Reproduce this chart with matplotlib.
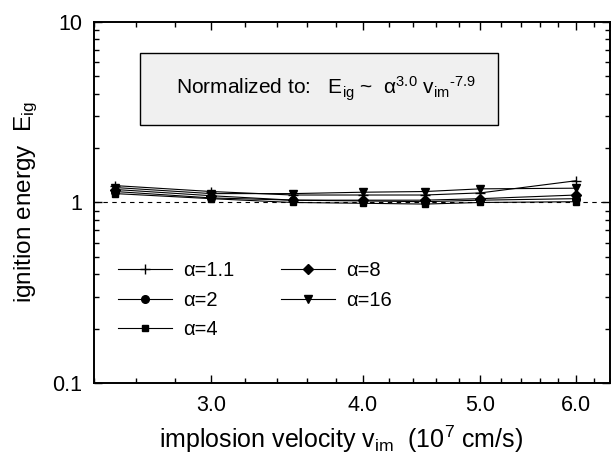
import numpy as np
import matplotlib
matplotlib.use("Agg")
import matplotlib.pyplot as plt
from matplotlib.ticker import FixedLocator, NullFormatter, FixedFormatter
from matplotlib.patches import Rectangle

plt.rcParams['font.family'] = ['Liberation Sans', 'DejaVu Sans']
plt.rcParams['mathtext.fontset'] = 'custom'
plt.rcParams['mathtext.rm'] = 'Liberation Sans'
plt.rcParams['mathtext.it'] = 'Liberation Sans:italic'

## data
v_im = [2.5, 3.0, 3.5, 4.0, 4.5, 5.0, 6.0]
e_a11 = [1.24, 1.15, 1.10, 1.10, 1.10, 1.13, 1.32]
e_a2 = [1.15, 1.06, 1.03, 1.02, 1.01, 1.03, 1.05]
e_a4 = [1.12, 1.05, 1.00, 0.99, 0.98, 1.00, 1.01]
e_a8 = [1.18, 1.09, 1.03, 1.03, 1.03, 1.05, 1.10]
e_a16 = [1.21, 1.12, 1.12, 1.14, 1.15, 1.19, 1.20]

series = [
    (e_a11, '+', "α=1.1", 6.5),
    (e_a2, 'o', "α=2", 5.5),
    (e_a4, 's', "α=4", 5),
    (e_a8, 'D', "α=8", 5),
    (e_a16, 'v', "α=16", 6),
]

fig = plt.figure(figsize=(6.11, 4.59), dpi=100)
ax = fig.add_axes([0.1538, 0.1656, 0.8450, 0.7865])

for vals, mk, lab, ms in series:
    ax.plot(v_im, vals, color='black', lw=0.8, marker=mk, ms=ms,
            mew=1.0, label=lab)

ax.axhline(1.0, color='black', lw=0.8, ls=(0, (4, 4)))

ax.set_xscale('log')
ax.set_yscale('log')
ax.set_xlim(2.4, 6.4)
ax.set_ylim(0.1, 10)

# x ticks
ax.xaxis.set_major_locator(FixedLocator([3, 4, 5, 6]))
ax.xaxis.set_major_formatter(FixedFormatter(["3.0", "4.0", "5.0", "6.0"]))
ax.xaxis.set_minor_locator(FixedLocator(np.arange(2.4, 6.41, 0.2)))
ax.xaxis.set_minor_formatter(NullFormatter())
# y ticks
ax.yaxis.set_major_locator(FixedLocator([0.1, 1, 10]))
ax.yaxis.set_major_formatter(FixedFormatter(["0.1", "1", "10"]))
ymin = [m * d for d in (0.1, 1) for m in range(2, 10)]
ax.yaxis.set_minor_locator(FixedLocator(ymin))
ax.yaxis.set_minor_formatter(NullFormatter())

ax.tick_params(which='both', direction='in', top=True, right=True,
               labelsize=15.5, width=1.0, pad=8.5)
ax.tick_params(which='major', length=6)
ax.tick_params(which='minor', length=3.5)
for s in ax.spines.values():
    s.set_linewidth(1.4)

ax.set_xlabel(r"implosion velocity v$_{\mathregular{im}}$  (10$^{\mathregular{7}}$ cm/s)",
              fontsize=18)
ax.xaxis.set_label_coords(0.478, -0.112)
ax.set_ylabel(r"ignition energy  E$_{\mathregular{ig}}$", fontsize=17.5, labelpad=9)

# normalization box
ax.add_patch(Rectangle((0.089, 0.715), 0.694, 0.199, transform=ax.transAxes,
                       facecolor='#f0f0f0', edgecolor='black', lw=1.0, zorder=3))
ax.text(0.449, 0.815,
        r"Normalized to:   E$_{\mathregular{ig}}$ ~  α$^{\mathregular{3.0}}$ v$_{\mathregular{im}}$${}^{\text{-7.9}}$",
        transform=ax.transAxes, ha='center', va='center', fontsize=15, zorder=4)

ax.legend(loc='upper left', bbox_to_anchor=(0.046, 0.337), ncol=2,
          frameon=False, fontsize=14.5, handlelength=2.7, handletextpad=0.55,
          columnspacing=2.3, labelspacing=0.52, borderpad=0, borderaxespad=0,
          numpoints=1)

plt.savefig("out.png", dpi=100)
